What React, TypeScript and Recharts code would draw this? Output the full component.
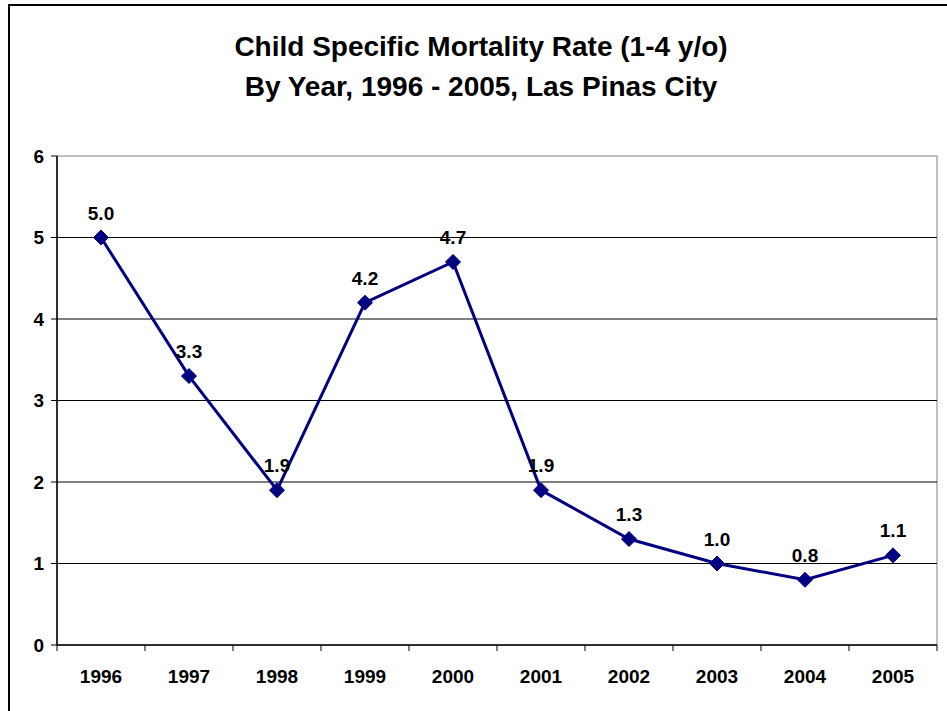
import React from 'react';
import { LineChart, Line, XAxis, YAxis, ReferenceLine, ReferenceArea, LabelList } from 'recharts';

const years = ['1996', '1997', '1998', '1999', '2000', '2001', '2002', '2003', '2004', '2005'];
const rates = [5.0, 3.3, 1.9, 4.2, 4.7, 1.9, 1.3, 1.0, 0.8, 1.1];
const yTicks = [0, 1, 2, 3, 4, 5, 6];

const data = years.map((year, i) => ({ year, rate: rates[i] }));

const FONT = '"Liberation Sans", Arial, sans-serif';
const NAVY = '#000080';

const Diamond = (props: any) => {
  const { cx, cy } = props;
  if (cx == null || cy == null) return null;
  const r = 7.5;
  return (
    <polygon
      points={`${cx},${cy - r} ${cx + r},${cy} ${cx},${cy + r} ${cx - r},${cy}`}
      fill={NAVY}
      stroke={NAVY}
    />
  );
};

// category labels sit in the middle of each band, tick marks on band edges
const YearTick = (props: any) => {
  const { x, y, payload, index, width, visibleTicksCount } = props;
  const half = width / visibleTicksCount / 2;
  const top = y - 8;
  return (
    <g>
      <line x1={x - half} y1={top} x2={x - half} y2={top + 6} stroke="#000" />
      {index === visibleTicksCount - 1 && (
        <line x1={x + half} y1={top} x2={x + half} y2={top + 6} stroke="#000" />
      )}
      <text x={x} y={y + 30} textAnchor="middle" fontFamily={FONT} fontWeight="bold" fontSize={19} fill="#000">
        {payload.value}
      </text>
    </g>
  );
};

export default function App() {
  return (
    <div style={{ position: 'absolute', left: 0, top: 0, width: 947, height: 711, background: '#fff', overflow: 'hidden' }}>
      <div
        style={{
          position: 'absolute',
          left: 8,
          top: 4,
          width: 960,
          height: 720,
          borderLeft: '2px solid #000',
          borderTop: '2px solid #000',
        }}
      />
      <div
        style={{
          position: 'absolute',
          left: 0,
          top: 27,
          width: 962,
          textAlign: 'center',
          fontFamily: FONT,
          fontWeight: 'bold',
          fontSize: 28,
          lineHeight: '40px',
          color: '#000',
        }}
      >
        Child Specific Mortality Rate (1-4 y/o)
        <br />
        By Year, 1996 - 2005, Las Pinas City
      </div>
      <div style={{ position: 'absolute', left: 0, top: 0 }}>
        <LineChart width={947} height={711} data={data} margin={{ top: 156, right: 10, bottom: 0, left: 17 }}>
          <ReferenceArea y1={0} y2={6} fill="none" stroke="#808080" strokeWidth={1} ifOverflow="visible" />
          {yTicks
            .filter((v) => v > 0 && v < 6)
            .map((v) => (
              <ReferenceLine key={v} y={v} stroke="#000" strokeWidth={1} />
            ))}
          <XAxis
            dataKey="year"
            scale="band"
            height={66}
            axisLine={{ stroke: '#000', strokeWidth: 1.5 }}
            tickLine={false}
            tick={<YearTick />}
            interval={0}
          />
          <YAxis
            domain={[0, 6]}
            ticks={yTicks}
            width={40}
            axisLine={{ stroke: '#000', strokeWidth: 1.5 }}
            tickLine={{ stroke: '#000' }}
            tickSize={6}
            tickMargin={7}
            tick={{ fontFamily: FONT, fontWeight: 'bold', fontSize: 19, fill: '#000' }}
          />
          <Line
            type="linear"
            dataKey="rate"
            stroke={NAVY}
            strokeWidth={3}
            dot={<Diamond />}
            activeDot={false}
            isAnimationActive={false}
          >
            <LabelList
              dataKey="rate"
              position="top"
              offset={18}
              formatter={(v: any) => Number(v).toFixed(1)}
              style={{ fontFamily: FONT, fontWeight: 'bold', fontSize: 19, fill: '#000' }}
            />
          </Line>
        </LineChart>
      </div>
    </div>
  );
}
